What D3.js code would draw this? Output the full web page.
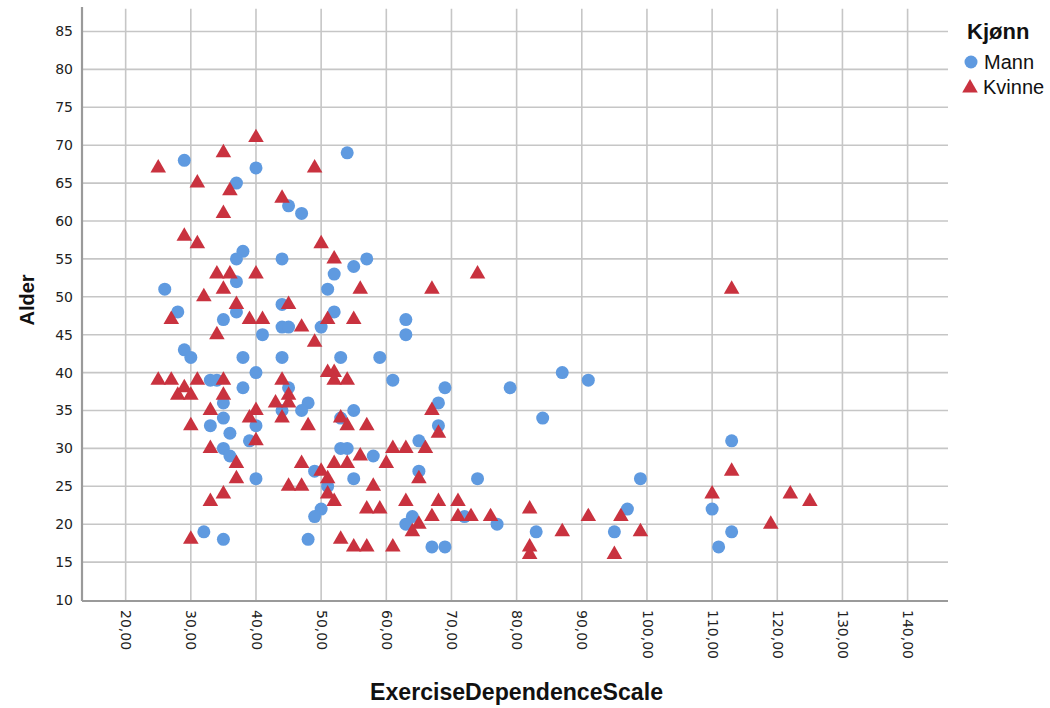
<!DOCTYPE html>
<html>
<head>
<meta charset="utf-8">
<script src="https://cdn.jsdelivr.net/npm/d3@7"></script>
<style>
  html, body { margin: 0; padding: 0; background: #fff; }
  svg { display: block; }
</style>
</head>
<body>
<svg id="chart" width="1050" height="708"></svg>
<script>
// Exercise Dependence Scale score against age, by gender
const mannEDS = [29,40,54,37,45,47,38,37,44,52,51,37,26,28,35,37,44,52,50,44,45,41,63,63,57,55,
  29,30,38,44,40,33,34,38,45,35,48,47,44,35,33,40,36,39,35,36,40,32,35,48,49,51,50,49,
  53,59,61,69,79,68,55,53,68,53,54,58,65,65,55,74,64,63,72,77,67,69,
  87,91,84,99,83,97,95,110,111,113,113];
const mannAlder = [68,67,69,65,62,61,56,55,55,53,51,52,51,48,47,48,49,48,46,46,46,45,47,45,55,54,
  43,42,42,42,40,39,39,38,38,36,36,35,35,34,33,33,32,31,30,29,26,19,18,18,27,25,22,21,
  42,42,39,38,38,36,35,34,33,30,30,29,31,27,26,26,21,20,21,20,17,17,
  40,39,34,26,19,22,19,22,17,31,19];

const kvinneEDS = [40,35,25,49,31,36,44,35,29,31,50,52,34,36,40,35,32,37,45,27,39,41,47,51,34,49,56,67,74,55,
  25,27,31,35,44,29,28,30,35,45,43,45,33,40,39,44,30,48,40,33,37,37,35,33,30,
  47,50,51,52,45,47,51,52,
  51,52,52,54,67,53,54,57,68,56,54,60,61,63,66,65,58,57,59,63,68,71,67,65,64,71,73,76,53,55,57,61,
  82,87,91,96,99,82,82,95,110,113,113,119,122,125];
const kvinneAlder = [71,69,67,67,65,64,63,61,58,57,57,55,53,53,53,51,50,49,49,47,47,47,46,47,45,44,51,51,53,47,
  39,39,39,39,39,38,37,37,37,37,36,36,35,35,34,34,33,33,31,30,28,26,24,23,18,
  28,27,26,28,25,25,24,23,
  40,40,39,39,35,34,33,33,32,29,28,28,30,30,30,26,25,22,22,23,23,23,21,20,19,21,21,21,18,17,17,17,
  22,19,21,21,19,17,16,16,24,51,27,20,24,23];

const xTicks = [20,30,40,50,60,70,80,90,100,110,120,130,140];
const yTicks = [10,15,20,25,30,35,40,45,50,55,60,65,70,75,80,85];
const groups = ["Mann", "Kvinne"];
const colors = ["#5f9ae0", "#c9323f"];

(function draw() {
  const svg = d3.select("#chart");
  const plotLeft = 82, plotRight = 948, plotTop = 8, plotBottom = 600;

  const x = d3.scaleLinear().domain([13.3, 146.2]).range([plotLeft, plotRight]);
  const y = d3.scaleLinear().domain([10, 88]).range([plotBottom, plotBottom - 78 * 7.58]);

  const fmt = d => d.toFixed(2).replace(".", ",");

  // grid
  const grid = svg.append("g").attr("stroke", "#c6c6c6").attr("stroke-width", 1.6);
  grid.selectAll("line.h").data(yTicks.filter(d => d > 10)).join("line")
    .attr("class", "h")
    .attr("x1", plotLeft).attr("x2", plotRight)
    .attr("y1", d => y(d)).attr("y2", d => y(d));
  grid.selectAll("line.v").data(xTicks).join("line")
    .attr("class", "v")
    .attr("x1", d => x(d)).attr("x2", d => x(d))
    .attr("y1", y(88)).attr("y2", plotBottom);

  // axes
  const yAxis = svg.append("g").attr("transform", `translate(${plotLeft},0)`)
    .call(d3.axisLeft(y).tickValues(yTicks).tickSize(0).tickPadding(9));
  yAxis.select(".domain").remove();
  yAxis.selectAll("text").attr("font-family", "DejaVu Sans").attr("font-size", 14).attr("fill", "#222");

  const xAxis = svg.append("g").attr("transform", `translate(0,${plotBottom + 1})`)
    .call(d3.axisBottom(x).tickValues(xTicks).tickFormat(fmt).tickSize(0));
  xAxis.select(".domain").remove();
  xAxis.selectAll("text")
    .attr("font-family", "DejaVu Sans").attr("font-size", 14).attr("fill", "#222")
    .attr("transform", "rotate(90)")
    .attr("x", 9).attr("y", 0).attr("dy", "0.35em")
    .attr("text-anchor", "start");

  svg.append("line").attr("x1", plotLeft).attr("x2", plotLeft).attr("y1", plotTop - 1).attr("y2", plotBottom + 1)
    .attr("stroke", "#9a9a9a").attr("stroke-width", 2.2);
  svg.append("line").attr("x1", plotLeft).attr("x2", plotRight).attr("y1", plotBottom + 1).attr("y2", plotBottom + 1)
    .attr("stroke", "#9a9a9a").attr("stroke-width", 2.2);

  // axis titles
  svg.append("text")
    .attr("transform", `translate(34,300) rotate(-90)`)
    .attr("text-anchor", "middle")
    .attr("font-family", "Liberation Sans").attr("font-weight", "bold").attr("font-size", 20)
    .attr("fill", "#111").text("Alder");

  svg.append("text")
    .attr("x", 370).attr("y", 700)
    .attr("text-anchor", "start")
    .attr("font-family", "Liberation Sans").attr("font-weight", "bold").attr("font-size", 23)
    .attr("textLength", 293).attr("lengthAdjust", "spacingAndGlyphs")
    .attr("fill", "#111").text("ExerciseDependenceScale");

  // points
  const mann = mannEDS.map((v, i) => ({ x: v, y: mannAlder[i] }));
  const kvinne = kvinneEDS.map((v, i) => ({ x: v, y: kvinneAlder[i] }));

  const tri = d3.symbol().type(d3.symbolTriangle).size(105);

  svg.append("g").selectAll("circle").data(mann).join("circle")
    .attr("cx", d => x(d.x)).attr("cy", d => y(d.y)).attr("r", 6.5)
    .attr("fill", colors[0]);

  svg.append("g").selectAll("path").data(kvinne).join("path")
    .attr("d", tri)
    .attr("transform", d => `translate(${x(d.x)},${y(d.y)})`)
    .attr("fill", colors[1]);

  // legend
  const lg = svg.append("g").attr("font-family", "Liberation Sans");
  lg.append("text").attr("x", 967).attr("y", 39).attr("font-weight", "bold").attr("font-size", 22)
    .attr("fill", "#111").text("Kjønn");
  lg.append("circle").attr("cx", 971).attr("cy", 62).attr("r", 6.5).attr("fill", colors[0]);
  lg.append("text").attr("x", 984).attr("y", 69).attr("font-size", 20).attr("fill", "#111").text(groups[0]);
  lg.append("path").attr("d", tri).attr("transform", "translate(970,88)").attr("fill", colors[1]);
  lg.append("text").attr("x", 983).attr("y", 94).attr("font-size", 20).attr("fill", "#111").text(groups[1]);
})();
</script>
</body>
</html>
